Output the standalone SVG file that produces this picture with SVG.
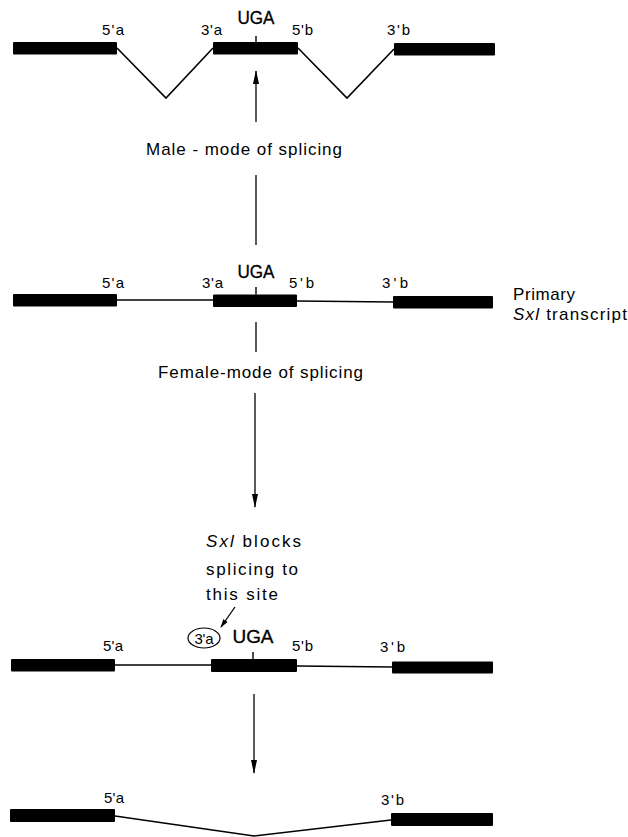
<svg xmlns="http://www.w3.org/2000/svg" width="628" height="837" viewBox="0 0 628 837">
  <defs>
    <marker id="head" viewBox="0 0 14 8" refX="13" refY="4" markerWidth="14" markerHeight="8" markerUnits="userSpaceOnUse" orient="auto">
      <path d="M0,1 L14,4 L0,7 Z" fill="#000"/>
    </marker>
    <marker id="headSmall" viewBox="0 0 10 8" refX="9" refY="4" markerWidth="9" markerHeight="7" markerUnits="userSpaceOnUse" orient="auto">
      <path d="M0,1 L10,4 L0,7 Z" fill="#000"/>
    </marker>
  </defs>
  <style>
    .exon { fill: #000; }
    .intron { fill: none; stroke: #000; stroke-width: 1.3; }
    .vee { fill: none; stroke: #000; stroke-width: 1.6; stroke-linejoin: miter; }
    .tick { stroke: #000; stroke-width: 1.4; }
    .flow { fill: none; stroke: #000; stroke-width: 1.3; }
    text { font-family: "Liberation Sans", Arial, sans-serif; fill: #000; }
    .site { font-size: 15px; }
    .codon { font-size: 19px; text-anchor: middle; stroke: #000; stroke-width: 0.35; }
    .note { font-size: 17px; }
    .gene { font-style: italic; }
  </style>
  <rect width="628" height="837" fill="#fff"/>

  <!-- Male-spliced product -->
  <g id="male-product">
    <rect class="exon" x="13" y="42" width="104" height="12.5" rx="1"/>
    <rect class="exon" x="213" y="42" width="85" height="12.5" rx="1"/>
    <rect class="exon" x="394" y="43" width="101" height="12.5" rx="1"/>
    <polyline class="vee" points="117,48 166,98 213,48"/>
    <polyline class="vee" points="298,48 347,98 394,49"/>
    <line class="tick" x1="256" y1="36" x2="256" y2="42"/>
    <text class="codon" x="256" y="24" textLength="37" lengthAdjust="spacingAndGlyphs">UGA</text>
    <text class="site" x="102" y="35" textLength="22">5'a</text>
    <text class="site" x="201" y="35" textLength="21">3'a</text>
    <text class="site" x="292" y="35" textLength="21">5'b</text>
    <text class="site" x="387" y="35" textLength="23">3'b</text>
  </g>

  <!-- Primary transcript -->
  <g id="primary-transcript">
    <line class="intron" x1="117" y1="300" x2="213" y2="300"/>
    <line class="intron" x1="297" y1="301" x2="393" y2="302"/>
    <rect class="exon" x="13" y="294" width="104" height="12.5" rx="1"/>
    <rect class="exon" x="213" y="294.5" width="84" height="12.5" rx="1"/>
    <rect class="exon" x="393" y="296" width="100" height="12.5" rx="1"/>
    <line class="tick" x1="256" y1="287" x2="256" y2="294.5"/>
    <text class="codon" x="256" y="278" textLength="37" lengthAdjust="spacingAndGlyphs">UGA</text>
    <text class="site" x="102" y="288" textLength="22">5'a</text>
    <text class="site" x="202" y="288" textLength="21">3'a</text>
    <text class="site" x="289" y="288" textLength="25">5'b</text>
    <text class="site" x="382" y="288" textLength="26">3'b</text>
    <text class="note" x="513" y="300" textLength="62">Primary</text>
    <text class="note" x="513" y="320" textLength="114"><tspan class="gene">Sxl</tspan> transcript</text>
  </g>

  <!-- Female pre-mRNA with blocked 3' site -->
  <g id="female-blocked">
    <line class="intron" x1="115" y1="665" x2="211" y2="665"/>
    <line class="intron" x1="297" y1="666" x2="392" y2="667"/>
    <rect class="exon" x="11" y="659" width="104" height="12.5" rx="1"/>
    <rect class="exon" x="211" y="659" width="86" height="13" rx="1"/>
    <rect class="exon" x="392" y="661.5" width="101" height="12" rx="1"/>
    <line class="tick" x1="253" y1="652" x2="253" y2="659"/>
    <text class="codon" x="253" y="643" textLength="41" lengthAdjust="spacingAndGlyphs">UGA</text>
    <text class="site" x="103" y="651" textLength="20">5'a</text>
    <text class="site" x="292" y="651" textLength="21">5'b</text>
    <text class="site" x="380" y="652" textLength="25">3'b</text>
    <ellipse cx="204" cy="638" rx="16" ry="10" fill="none" stroke="#000" stroke-width="1.2"/>
    <text class="site" x="194.5" y="644" textLength="19">3'a</text>
  </g>

  <g id="sxl-note">
    <text class="note" x="206" y="547" textLength="95"><tspan class="gene">Sxl</tspan> blocks</text>
    <text class="note" x="206" y="575" textLength="92">splicing to</text>
    <text class="note" x="206" y="600" textLength="72">this site</text>
  </g>

  <!-- Female-spliced product -->
  <g id="female-product">
    <rect class="exon" x="10" y="809" width="105" height="13" rx="1"/>
    <rect class="exon" x="391" y="813" width="102" height="13" rx="1"/>
    <polyline class="vee" points="115,816 254,836 391,820"/>
    <text class="site" x="104" y="803" textLength="20">5'a</text>
    <text class="site" x="381" y="805" textLength="23">3'b</text>
  </g>

  <!-- Splicing-mode labels -->
  <g id="mode-labels">
    <text class="note" x="146" y="155" textLength="196">Male - mode of splicing</text>
    <text class="note" x="158" y="378" textLength="205">Female-mode of splicing</text>
  </g>

  <!-- Connectors -->
  <g id="connectors">
    <line class="flow" x1="256" y1="245" x2="256" y2="175"/>
    <line class="flow" x1="256" y1="122" x2="256" y2="71" marker-end="url(#head)"/>
    <line class="flow" x1="256" y1="322" x2="256" y2="352"/>
    <line class="flow" x1="255" y1="393" x2="255" y2="507" marker-end="url(#head)"/>
    <line class="flow" x1="235" y1="607" x2="221" y2="627" marker-end="url(#headSmall)"/>
    <line class="flow" x1="254" y1="694" x2="254" y2="773" marker-end="url(#head)"/>
  </g>
</svg>
